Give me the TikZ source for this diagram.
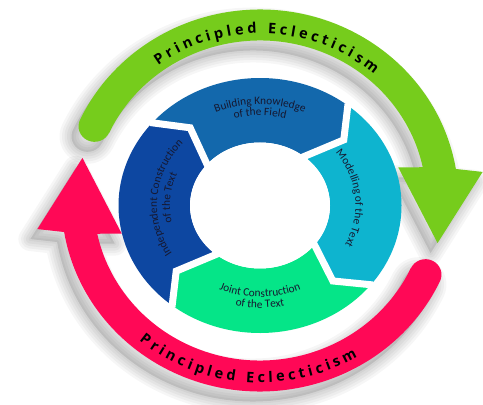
\documentclass[tikz,border=0pt]{standalone}
\usepackage{fontspec}
\setmainfont{Carlito}
\newfontfamily\ringfont{Open Sans}
\usetikzlibrary{decorations.text}
\definecolor{limeA}{RGB}{118,204,28}
\definecolor{roseA}{RGB}{255,8,86}
\definecolor{bkfA}{RGB}{19,104,172}
\definecolor{modA}{RGB}{14,180,207}
\definecolor{jntA}{RGB}{5,229,136}
\definecolor{indA}{RGB}{13,71,161}
\definecolor{labA}{RGB}{22,24,48}
\newcommand\labfont{\fontsize{11.3}{12}\selectfont}
\newcommand\ringfmt{\ringfont\bfseries\fontsize{14.5}{15}\selectfont\kern3.6pt}
\newcommand\ringseg[3]{%
  \pgfmathsetmacro\tipE{#2-11}\pgfmathsetmacro\tipS{#1-11}%
  \fill[#3] (#1:141.5 and 127.5) arc[start angle=#1, end angle=#2, x radius=141.5, y radius=127.5]
    -- (\tipE:111 and 100) -- (#2:70 and 63)
    arc[start angle=#2, end angle=#1, x radius=70, y radius=63]
    -- (\tipS:111 and 100) -- cycle;}
\tikzset{
  greenshape/.style={insert path={(9.5:198.6 and 191) arc[start angle=9.5, end angle=155, x radius=198.6, y radius=191]
     arc[start angle=155, end angle=335, x radius=16, y radius=15.5] -- (155:166.4 and 160)
     arc[start angle=155, end angle=12, x radius=166.4, y radius=160]
     -- (14:142.5 and 137) -- (-14:183 and 176) -- (7.6:224.6 and 216) -- cycle}},
  pinkshape/.style={insert path={(189.5:198.6 and 191) arc[start angle=189.5, end angle=335, x radius=198.6, y radius=191]
     arc[start angle=335, end angle=515, x radius=16, y radius=15.5] -- (335:166.4 and 160)
     arc[start angle=335, end angle=192, x radius=166.4, y radius=160]
     -- (194:142.5 and 137) -- (166:183 and 176) -- (187.6:224.6 and 216) -- cycle}},
  shadowline/.style={black, opacity=0.035, line join=round},
  labpath/.style={decorate, decoration={text along path, text align=center, text color=labA, text={|\labfont|#1}}},
  ringpath/.style={decorate, decoration={text along path, text align=center, text color=black, text={|\ringfmt|#1}}}
}
\begin{document}
\begin{tikzpicture}[x=1pt,y=1pt]
\fill[white] (0,0) rectangle (483,405);
\useasboundingbox (0,0) rectangle (483,405);
% soft shadows of the two arrows
\begin{scope}[shift={(253,194.5)}]
  \fill[black, opacity=0.10, greenshape];
  \fill[black, opacity=0.10, pinkshape];
  \foreach \w in {4,9,14,19,24}{
    \draw[shadowline, line width=\w, greenshape];
    \draw[shadowline, line width=\w, pinkshape];
  }
\end{scope}
% arrows
\begin{scope}[shift={(260,204.5)}]
  \fill[limeA, greenshape];
  \fill[roseA, pinkshape];
  \path[ringpath={Principled Eclecticism}]
    (145:173.7 and 167) arc[start angle=145, end angle=31, x radius=173.7, y radius=167];
  \path[ringpath={Principled Eclecticism}]
    (-155:189.3 and 182) arc[start angle=-155, end angle=-35, x radius=189.3, y radius=182];
\end{scope}
% inner cycle
\begin{scope}[shift={(260,199.5)}]
  \ringseg{140}{52}{bkfA}
  \ringseg{52}{-38}{modA}
  \ringseg{-38}{-128}{jntA}
  \ringseg{232}{140}{indA}
  \foreach \b in {140,52,-38,-128}{
    \pgfmathsetmacro\tb{\b-11}
    \draw[white, line width=7, line join=miter] (\b:143 and 129) -- (\tb:111 and 100) -- (\b:68 and 61);
  }
  \fill[white] (0,0) ellipse[x radius=70, y radius=63];
  \path[labpath={Building Knowledge}]
    (150:112 and 101) arc[start angle=150, end angle=30, x radius=112, y radius=101];
  \path[labpath={of the Field}]
    (150:100.5 and 90) arc[start angle=150, end angle=30, x radius=100.5, y radius=90];
  \path[labpath={Modelling of the Text}]
    (65:95.5 and 86) arc[start angle=65, end angle=-55, x radius=95.5, y radius=86];
  \path[labpath={Joint Construction}]
    (-150:101.5 and 91.5) arc[start angle=-150, end angle=-30, x radius=101.5, y radius=91.5];
  \path[labpath={of the Text}]
    (-150:113.5 and 102.5) arc[start angle=-150, end angle=-30, x radius=113.5, y radius=102.5];
  \path[labpath={Independent Construction}]
    (240:103 and 93) arc[start angle=240, end angle=110, x radius=103, y radius=93];
  \path[labpath={of the Text}]
    (240:90 and 81) arc[start angle=240, end angle=110, x radius=90, y radius=81];
\end{scope}
\end{tikzpicture}
\end{document}
